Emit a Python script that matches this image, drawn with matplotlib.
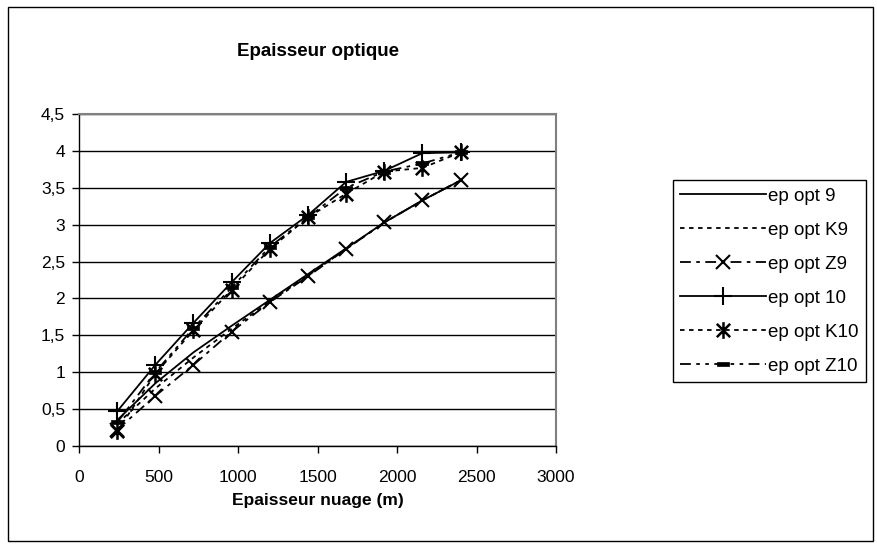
import numpy as np
import matplotlib
matplotlib.use("Agg")
import matplotlib.pyplot as plt
from matplotlib.path import Path
from matplotlib.patches import Rectangle

# epaisseur du nuage (m)
epaisseur = [240, 480, 720, 960, 1200, 1440, 1680, 1920, 2160, 2400]

ep_opt_9 = [0.35, 0.85, 1.27, 1.63, 1.98, 2.33, 2.68, 3.03, 3.33, 3.60]
ep_opt_K9 = [0.30, 0.78, 1.20, 1.59, 1.96, 2.31, 2.67, 3.03, 3.33, 3.60]
ep_opt_Z9 = [0.22, 0.68, 1.10, 1.55, 1.95, 2.30, 2.67, 3.03, 3.33, 3.60]
ep_opt_10 = [0.47, 1.10, 1.67, 2.22, 2.75, 3.13, 3.58, 3.73, 3.97, 3.98]
ep_opt_K10 = [0.20, 0.98, 1.57, 2.12, 2.67, 3.10, 3.42, 3.72, 3.77, 3.98]
ep_opt_Z10 = [0.32, 1.00, 1.60, 2.15, 2.70, 3.10, 3.50, 3.72, 3.83, 3.98]

y_ticks = [0, 0.5, 1, 1.5, 2, 2.5, 3, 3.5, 4, 4.5]
y_labels = ['0', '0,5', '1', '1,5', '2', '2,5', '3', '3,5', '4', '4,5']
x_ticks = [0, 500, 1000, 1500, 2000, 2500, 3000]

plt.rcParams['font.family'] = ['Liberation Sans', 'DejaVu Sans']

# marqueur etoile facon Excel (X + barre verticale)
etoile = Path([(-1, -1), (1, 1), (-1, 1), (1, -1), (0, -1.25), (0, 1.25)],
              [Path.MOVETO, Path.LINETO, Path.MOVETO, Path.LINETO, Path.MOVETO, Path.LINETO])
tiret = Path([(-1, -0.4), (1, -0.4), (1, 0.4), (-1, 0.4), (-1, -0.4)],
             [Path.MOVETO, Path.LINETO, Path.LINETO, Path.LINETO, Path.CLOSEPOLY])

fig = plt.figure(figsize=(8.77, 5.48), dpi=100)
fig.patches.append(Rectangle((0.009, 0.013), 0.986, 0.975, transform=fig.transFigure,
                             fill=False, edgecolor='black', linewidth=1))
ax = fig.add_axes([0.0901, 0.1861, 0.5439, 0.6058])

lw = 1.3
ax.plot(epaisseur, ep_opt_9, color='black', lw=lw, label='ep opt 9')
ax.plot(epaisseur, ep_opt_K9, color='black', lw=lw, ls=(0, (2.5, 2.5)), label='ep opt K9')
ax.plot(epaisseur, ep_opt_Z9, color='black', lw=lw, ls=(0, (6, 3, 2, 3)),
        marker='x', ms=10, mew=1.5, label='ep opt Z9')
ax.plot(epaisseur, ep_opt_10, color='black', lw=lw, marker='+', ms=13, mew=1.5,
        label='ep opt 10')
ax.plot(epaisseur, ep_opt_K10, color='black', lw=lw, ls=(0, (2.5, 2.5)),
        marker=etoile, ms=12, mew=1.8, label='ep opt K10')
ax.plot(epaisseur, ep_opt_Z10, color='black', lw=lw, ls=(0, (6, 3, 2, 3, 2, 3)),
        marker=tiret, ms=8, mew=0.5, label='ep opt Z10')

ax.set_xlim(0, 3000)
ax.set_ylim(0, 4.5)
ax.set_xticks(x_ticks)
ax.set_yticks(y_ticks)
ax.set_yticklabels(y_labels)
ax.tick_params(axis='both', direction='out', length=5, width=1, labelsize=12.5, color='black')
ax.tick_params(axis='y', pad=5)
ax.tick_params(axis='x', pad=12)
ax.yaxis.grid(True, color='black', lw=1)
ax.set_axisbelow(True)
for s in ['top', 'right']:
    ax.spines[s].set_color('#808080')
    ax.spines[s].set_linewidth(1.5)
for s in ['left', 'bottom']:
    ax.spines[s].set_color('black')
    ax.spines[s].set_linewidth(1)

ax.set_title('Epaisseur optique', fontsize=13.5, fontweight='bold', pad=42)
ax.set_xlabel('Epaisseur nuage (m)', fontsize=12.5, fontweight='bold', labelpad=6)

leg = ax.legend(loc='upper left', bbox_to_anchor=(0.767, 0.6715), bbox_transform=fig.transFigure,
                borderaxespad=0, fancybox=False, edgecolor='black', fontsize=13.5,
                handlelength=4.6, handletextpad=0.1, labelspacing=0.9, borderpad=0.4,
                framealpha=1)
leg.get_frame().set_linewidth(1)

fig.savefig('out.png', dpi=100)
